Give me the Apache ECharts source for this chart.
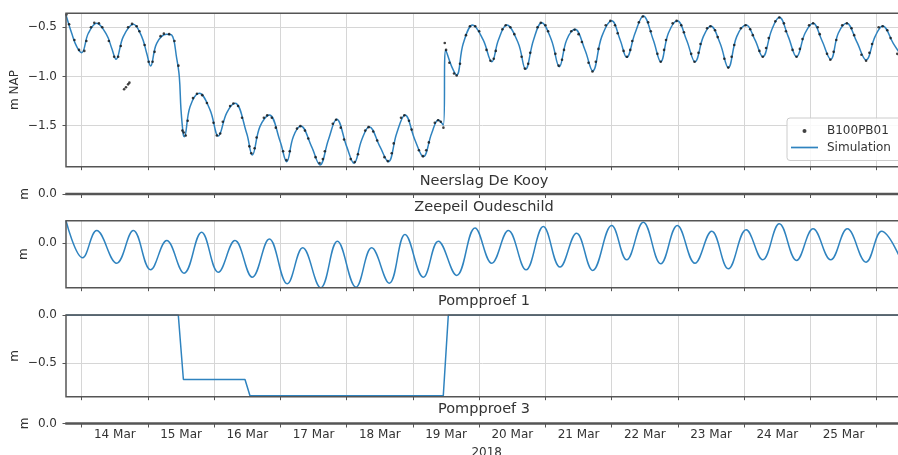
<!DOCTYPE html>
<html>
<head>
<meta charset="utf-8">
<script src="https://cdn.jsdelivr.net/npm/echarts@6/dist/echarts.min.js"></script>
<style>html,body{margin:0;padding:0;background:#fff}#c{width:898px;height:455px}</style>
</head>
<body>
<div id="c"></div>
<script>
// x values: days after 14 Mar 2018 00:00
const dayLabels = ['14 Mar','15 Mar','16 Mar','17 Mar','18 Mar','19 Mar','20 Mar','21 Mar','22 Mar','23 Mar','24 Mar','25 Mar'];
const dayTicks = [0,1,2,3,4,5,6,7,8,9,10,11,12];
const labelPos = [0.5,1.5,2.5,3.5,4.5,5.5,6.5,7.5,8.5,9.5,10.5,11.5];
const panelTitles = ['Neerslag De Kooy','Zeepeil Oudeschild','Pompproef 1','Pompproef 3'];
const yTicksTop = [-1.5,-1.0,-0.5];
const yTicksZero = [0];
const yTicksPomp = [-0.5,0];

const simulation = [
[-0.237,-0.375],[-0.151,-0.561],[-0.075,-0.697],[0.0,-0.758],[0.1,-0.561],[0.226,-0.459],[0.377,-0.578],[0.453,-0.713],[0.518,-0.825],[0.628,-0.595],[0.78,-0.47],[0.906,-0.595],[0.981,-0.764],[1.04,-0.893],[1.132,-0.663],[1.283,-0.571],[1.358,-0.578],[1.434,-0.815],[1.473,-1.0],[1.499,-1.34],[1.534,-1.595],[1.549,-1.612],[1.635,-1.307],[1.775,-1.171],[1.937,-1.34],[2.062,-1.605],[2.189,-1.37],[2.314,-1.272],[2.49,-1.577],[2.575,-1.798],[2.69,-1.51],[2.832,-1.391],[2.996,-1.66],[3.094,-1.866],[3.194,-1.612],[3.306,-1.503],[3.47,-1.713],[3.597,-1.90],[3.723,-1.645],[3.849,-1.435],[4.0,-1.713],[4.11,-1.882],[4.226,-1.645],[4.34,-1.51],[4.502,-1.713],[4.628,-1.866],[4.755,-1.577],[4.88,-1.391],[5.03,-1.645],[5.157,-1.815],[5.283,-1.577],[5.383,-1.442],[5.458,-1.493],[5.494,-0.73],[5.585,-0.90],[5.66,-0.985],[5.76,-0.663],[5.902,-0.477],[6.06,-0.629],[6.19,-0.85],[6.29,-0.629],[6.415,-0.477],[6.59,-0.663],[6.70,-0.927],[6.82,-0.629],[6.943,-0.453],[7.09,-0.629],[7.21,-0.90],[7.32,-0.629],[7.445,-0.52],[7.597,-0.731],[7.713,-0.944],[7.85,-0.595],[8.0,-0.433],[8.128,-0.629],[8.226,-0.805],[8.352,-0.561],[8.477,-0.385],[8.628,-0.629],[8.74,-0.85],[8.855,-0.561],[8.99,-0.433],[9.13,-0.629],[9.257,-0.85],[9.383,-0.595],[9.494,-0.487],[9.636,-0.663],[9.76,-0.91],[9.887,-0.595],[10.03,-0.477],[10.163,-0.629],[10.28,-0.80],[10.415,-0.527],[10.53,-0.398],[10.665,-0.595],[10.79,-0.80],[10.918,-0.561],[11.04,-0.459],[11.17,-0.629],[11.306,-0.825],[11.42,-0.561],[11.547,-0.459],[11.698,-0.646],[11.84,-0.832],[11.975,-0.595],[12.09,-0.487],[12.25,-0.663],[12.382,-0.80]
];

const observed = [
[-0.23,-0.37],[-0.19,-0.47],[-0.11,-0.63],[-0.04,-0.73],[0.04,-0.74],[0.07,-0.64],[0.14,-0.50],[0.19,-0.455],[0.26,-0.46],[0.31,-0.50],[0.41,-0.64],[0.49,-0.80],[0.55,-0.80],[0.59,-0.69],[0.70,-0.50],[0.76,-0.465],[0.83,-0.49],[0.87,-0.54],[0.95,-0.68],[1.01,-0.85],[1.07,-0.85],[1.10,-0.75],[1.19,-0.59],[1.24,-0.565],[1.32,-0.57],[1.40,-0.64],[1.46,-0.89],
[0.64,-1.13],[0.668,-1.11],[0.70,-1.08],[0.72,-1.063],
[1.52,-1.55],[1.54,-1.57],[1.57,-1.60],[1.60,-1.45],[1.68,-1.22],[1.74,-1.175],[1.82,-1.19],[1.89,-1.27],[1.99,-1.47],[2.04,-1.60],[2.09,-1.58],[2.13,-1.46],[2.24,-1.30],[2.29,-1.275],[2.36,-1.30],[2.42,-1.42],[2.53,-1.71],[2.56,-1.78],[2.61,-1.73],[2.64,-1.62],[2.75,-1.42],[2.80,-1.395],[2.87,-1.42],[2.93,-1.52],[3.04,-1.76],[3.09,-1.85],[3.14,-1.76],[3.25,-1.53],[3.30,-1.505],[3.37,-1.55],[3.42,-1.63],[3.53,-1.82],[3.59,-1.88],[3.64,-1.84],[3.67,-1.76],[3.79,-1.48],[3.84,-1.44],[3.91,-1.52],[3.96,-1.64],[4.06,-1.84],[4.12,-1.87],[4.17,-1.79],[4.28,-1.55],[4.33,-1.515],[4.40,-1.56],[4.46,-1.65],[4.57,-1.82],[4.62,-1.86],[4.68,-1.78],[4.71,-1.68],[4.82,-1.42],[4.87,-1.395],[4.94,-1.45],[4.98,-1.54],[5.09,-1.75],[5.15,-1.81],[5.20,-1.75],[5.24,-1.67],[5.33,-1.47],[5.38,-1.445],[5.42,-1.46],[5.46,-1.52],
[5.48,-0.66],[5.50,-0.73],[5.55,-0.86],[5.62,-0.97],[5.66,-0.99],[5.71,-0.87],[5.80,-0.58],[5.86,-0.49],[5.94,-0.49],[6.00,-0.54],[6.11,-0.73],[6.17,-0.84],[6.22,-0.82],[6.25,-0.74],[6.35,-0.52],[6.40,-0.48],[6.47,-0.50],[6.53,-0.57],[6.64,-0.80],[6.69,-0.92],[6.74,-0.87],[6.77,-0.76],[6.88,-0.50],[6.93,-0.455],[7.00,-0.48],[7.04,-0.54],[7.15,-0.77],[7.20,-0.89],[7.25,-0.83],[7.28,-0.73],[7.39,-0.54],[7.44,-0.525],[7.50,-0.57],[7.55,-0.65],[7.65,-0.86],[7.71,-0.95],[7.76,-0.85],[7.80,-0.72],[7.91,-0.48],[7.98,-0.435],[8.05,-0.48],[8.09,-0.56],[8.18,-0.74],[8.23,-0.80],[8.28,-0.73],[8.31,-0.64],[8.41,-0.45],[8.47,-0.39],[8.55,-0.45],[8.59,-0.54],[8.69,-0.77],[8.74,-0.85],[8.79,-0.73],[8.82,-0.63],[8.92,-0.46],[8.98,-0.435],[9.05,-0.48],[9.09,-0.55],[9.20,-0.77],[9.25,-0.85],[9.31,-0.76],[9.34,-0.67],[9.44,-0.51],[9.49,-0.49],[9.56,-0.53],[9.60,-0.60],[9.70,-0.82],[9.76,-0.91],[9.81,-0.80],[9.85,-0.68],[9.95,-0.51],[10.02,-0.48],[10.09,-0.52],[10.13,-0.58],[10.23,-0.74],[10.28,-0.80],[10.33,-0.71],[10.37,-0.61],[10.47,-0.44],[10.53,-0.40],[10.60,-0.46],[10.63,-0.54],[10.73,-0.73],[10.79,-0.80],[10.84,-0.72],[10.88,-0.62],[10.98,-0.48],[11.04,-0.46],[11.11,-0.50],[11.14,-0.57],[11.25,-0.77],[11.30,-0.83],[11.35,-0.75],[11.39,-0.63],[11.48,-0.48],[11.55,-0.46],[11.62,-0.51],[11.66,-0.58],[11.77,-0.78],[11.84,-0.84],[11.89,-0.76],[11.93,-0.67],[12.03,-0.50],[12.09,-0.49],[12.16,-0.53],[12.21,-0.61],[12.31,-0.77]
];

const zeepeil = [
[-0.237,0.47],[0.015,-0.305],[0.226,0.265],[0.528,-0.418],[0.78,0.265],[1.04,-0.556],[1.283,0.056],[1.545,-0.626],[1.81,0.23],[2.062,-0.605],[2.314,0.056],[2.575,-0.71],[2.832,0.09],[3.103,-0.848],[3.336,-0.097],[3.608,-0.93],[3.859,0.042],[4.14,-0.918],[4.377,-0.097],[4.643,-0.835],[4.88,0.181],[5.157,-0.71],[5.383,0.042],[5.66,-0.674],[5.937,0.32],[6.19,-0.418],[6.44,0.265],[6.707,-0.556],[6.968,0.348],[7.22,-0.50],[7.47,0.209],[7.713,-0.57],[8.0,0.37],[8.226,-0.347],[8.477,0.438],[8.74,-0.43],[8.99,0.37],[9.257,-0.418],[9.51,0.25],[9.76,-0.535],[10.03,0.28],[10.28,-0.347],[10.53,0.405],[10.79,-0.36],[11.04,0.30],[11.306,-0.347],[11.557,0.30],[11.84,-0.397],[12.075,0.25],[12.382,-0.40]
];

const pompproef1 = [[-0.237,0],[1.458,0],[1.535,-0.667],[2.465,-0.667],[2.54,-0.835],[5.458,-0.835],[5.534,0],[12.382,0]];

const xMin = -0.237, xMax = 12.382;
const FONT = 'DejaVu Sans';
const TXT = '#333';
const SPINE = '#555';
const BLUE = '#2f83bf';

const gridBoxes = [
  {top: 13.3, height: 153.4},
  {top: 193.5, height: 1},
  {top: 220.7, height: 67},
  {top: 315, height: 81.7},
  {top: 423, height: 1}
];
const yCfg = [
  {min: -1.917, max: -0.358, ticks: yTicksTop, name: 'm NAP', gap: 45},
  {min: -0.1, max: 0.1, ticks: yTicksZero, name: 'm', gap: 35},
  {min: -0.93, max: 0.47, ticks: yTicksZero, name: 'm', gap: 36},
  {min: -0.845, max: 0, ticks: yTicksPomp, name: 'm', gap: 45},
  {min: -0.1, max: 0.1, ticks: yTicksZero, name: 'm', gap: 35}
];
const titleCenters = [181.7, 207.3, 301.7, 409];

const fmtY = v => (v < 0 ? '\u2212' : '') + Math.abs(v).toFixed(1);

const option = {
  animation: false,
  backgroundColor: '#fff',
  title: panelTitles.map((t, i) => ({
    text: t, left: 484, top: titleCenters[i] - 8, textAlign: 'center', padding: 0,
    textStyle: {fontSize: 14.5, fontWeight: 'normal', color: TXT, fontFamily: FONT, lineHeight: 16}
  })),
  grid: gridBoxes.map(g => ({
    left: 66, width: 836, top: g.top, height: g.height,
    show: true, z: 10, backgroundColor: 'transparent', borderColor: SPINE, borderWidth: 1.5,
    containLabel: false, outerBoundsMode: 'none'
  })),
  xAxis: gridBoxes.map((g, i) => ({
    type: 'value', gridIndex: i, min: xMin, max: xMax,
    axisLine: {show: false, onZero: false},
    axisTick: {show: true, customValues: dayTicks, length: 3.5, lineStyle: {color: SPINE, width: 1}},
    splitLine: {show: true, lineStyle: {color: '#d6d6d6', width: 1}},
    axisLabel: {show: i === 4, customValues: labelPos, formatter: v => dayLabels[Math.floor(v)] || '',
      margin: 5, fontSize: 12, color: TXT, fontFamily: FONT}
  })),
  yAxis: yCfg.map((c, i) => ({
    type: 'value', gridIndex: i, min: c.min, max: c.max,
    name: c.name, nameLocation: 'middle', nameGap: c.gap, nameMoveOverlap: false,
    nameTextStyle: {fontSize: 12, color: TXT, fontFamily: FONT},
    axisLine: {show: false, onZero: false},
    axisTick: {show: true, customValues: c.ticks, length: 3.5, lineStyle: {color: SPINE, width: 1}},
    splitLine: {show: i !== 1 && i !== 4, lineStyle: {color: '#d6d6d6', width: 1}},
    axisLabel: {show: true, customValues: c.ticks, formatter: fmtY, margin: 9, fontSize: 12, color: TXT, fontFamily: FONT}
  })),
  legend: {
    data: [{name: 'B100PB01'}, {name: 'Simulation', icon: 'path://M0,0 L27,0 L27,1.7 L0,1.7 Z'}],
    orient: 'vertical', left: 787, top: 118,
    itemWidth: 27, itemHeight: 4, itemGap: 4.5, padding: [7, 12, 7, 4],
    backgroundColor: 'rgba(255,255,255,0.85)', borderColor: '#cccccc', borderWidth: 1, borderRadius: 3,
    textStyle: {fontSize: 12, color: TXT, fontFamily: FONT, padding: [0, 0, 0, 4]}, z: 20
  },
  graphic: [{
    type: 'text', x: 486.7, y: 452.5,
    style: {text: '2018', font: '12px "DejaVu Sans"', fill: TXT, align: 'center', verticalAlign: 'middle'}
  }],
  series: [
    {name: 'Simulation', type: 'line', xAxisIndex: 0, yAxisIndex: 0, data: simulation, smooth: 0.4,
      symbol: 'none', lineStyle: {color: BLUE, width: 1.5}, itemStyle: {color: BLUE}, z: 2},
    {name: 'B100PB01', type: 'scatter', xAxisIndex: 0, yAxisIndex: 0, data: observed, symbol: 'circle',
      symbolSize: 2.6, itemStyle: {color: '#111'}, z: 3},
    {name: 'Zeepeil', type: 'line', xAxisIndex: 2, yAxisIndex: 2, data: zeepeil, smooth: 0.4,
      symbol: 'none', lineStyle: {color: BLUE, width: 1.5}, z: 2},
    {name: 'Pompproef 1', type: 'line', xAxisIndex: 3, yAxisIndex: 3, data: pompproef1,
      symbol: 'none', lineStyle: {color: BLUE, width: 1.5}, z: 2}
  ]
};
echarts.init(document.getElementById('c'), null, {renderer: 'canvas'}).setOption(option);
</script>
</body>
</html>
